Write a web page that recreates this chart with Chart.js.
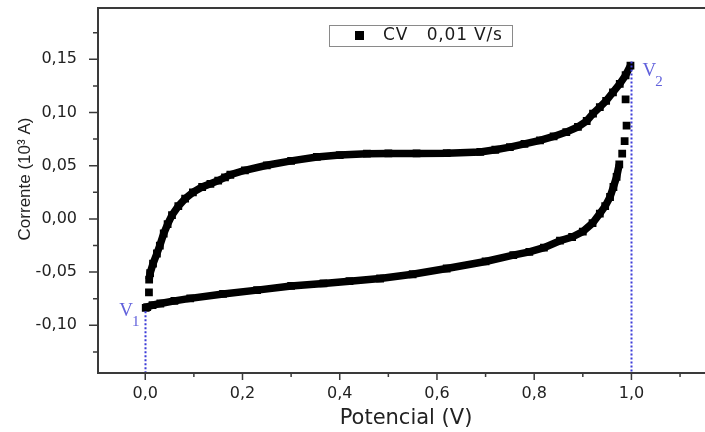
<!DOCTYPE html>
<html><head><meta charset="utf-8">
<script src="https://cdn.jsdelivr.net/npm/chart.js@4.4.1/dist/chart.umd.min.js"></script>
<style>html,body{margin:0;padding:0;background:#fff}#wrap{width:705px;height:432px;position:relative}</style>
</head><body><div id="wrap"><canvas id="c" width="705" height="432"></canvas></div>
<script>
// Forward (anodic) scan, 0 V -> 1 V
const fwdPotencial = [0.008,0.010,0.016,0.024,0.030,0.038,0.046,0.055,0.068,0.082,0.098,0.117,0.134,0.150,0.164,0.175,0.205,0.250,0.300,0.353,0.400,0.456,0.500,0.558,0.620,0.689,0.720,0.750,0.780,0.812,0.840,0.866,0.890,0.908,0.921,0.935,0.948,0.962,0.976,0.988,0.998];
const fwdCorrente  = [-0.057,-0.051,-0.042,-0.0325,-0.025,-0.0137,-0.005,0.0035,0.012,0.019,0.025,0.030,0.033,0.036,0.039,0.0415,0.0457,0.0504,0.0545,0.0582,0.0600,0.0613,0.0615,0.0615,0.0618,0.0629,0.065,0.0675,0.0705,0.0738,0.0775,0.0816,0.0865,0.092,0.099,0.105,0.111,0.119,0.127,0.135,0.144];
// Reverse (cathodic) scan, 1 V -> 0 V (continuous part)
const revPotencial = [0.975,0.9695,0.963,0.956,0.946,0.935,0.920,0.900,0.878,0.853,0.820,0.790,0.757,0.700,0.620,0.550,0.483,0.420,0.3665,0.300,0.230,0.160,0.0925,0.060,0.031,0.015,0.004,0.001];
const revCorrente  = [0.0513,0.0394,0.030,0.0206,0.012,0.005,-0.004,-0.012,-0.017,-0.0205,-0.027,-0.031,-0.034,-0.040,-0.0466,-0.052,-0.056,-0.0585,-0.0606,-0.063,-0.0669,-0.0705,-0.0747,-0.077,-0.0795,-0.081,-0.0828,-0.0835];
// Isolated points on the steep parts
const sparsePotencial = [0.988,0.990,0.986,0.981,0.0076];
const sparseCorrente  = [0.1123,0.0876,0.0732,0.0613,-0.069];
// Switching potentials V1, V2
const switchPotencial = [0.0, 1.0];
const switchCorrente  = [-0.084, 0.146];
const switchLabels = ['1','2'];
// Ticks
const xMajorTicks = [0.0,0.2,0.4,0.6,0.8,1.0];
const xMinorTicks = [0.1,0.3,0.5,0.7,0.9,1.1];
const yMajorTicks = [-0.10,-0.05,0.00,0.05,0.10,0.15];
const yMinorTicks = [-0.125,-0.075,-0.025,0.025,0.075,0.125,0.175];
const legendLabel = 'CV   0,01 V/s';
const xTitle = 'Potencial (V)';
const yTitle = 'Corrente (10\u00B3 A)';

const toPts = (xs, ys) => xs.map((x, i) => ({x, y: ys[i]}));
const AXIS = '#3a3a3a';

const framePlugin = {
  id: 'frame',
  afterDatasetsDraw(chart) {
    const {ctx, chartArea: a, scales: {x, y}} = chart;
    const W = chart.width;
    ctx.save();
    // blue dotted switching lines
    ctx.strokeStyle = '#3b3bd8';
    ctx.lineWidth = 2;
    ctx.setLineDash([2, 2]);
    switchPotencial.forEach((v, i) => {
      const px = Math.round(x.getPixelForValue(v)) + 0.5;
      const py = y.getPixelForValue(switchCorrente[i]) + (i === 0 ? 3 : -2);
      ctx.beginPath(); ctx.moveTo(px, py); ctx.lineTo(px, a.bottom); ctx.stroke();
    });
    ctx.setLineDash([]);
    // V labels
    ctx.fillStyle = '#6262dc';
    ctx.textBaseline = 'alphabetic';
    switchPotencial.forEach((v, i) => {
      const px = x.getPixelForValue(v);
      const py = y.getPixelForValue(switchCorrente[i]);
      const lx = i === 0 ? px - 26 : px + 11;
      const ly = i === 0 ? py + 8 : py + 12;
      ctx.font = '19px "Liberation Serif"';
      ctx.textAlign = 'left';
      ctx.fillText('V', lx, ly);
      const w = ctx.measureText('V').width;
      ctx.font = '15px "Liberation Serif"';
      ctx.fillText(switchLabels[i], lx + w - 1, ly + 10);
    });
    // frame
    ctx.strokeStyle = AXIS;
    ctx.lineWidth = 2;
    ctx.beginPath();
    ctx.moveTo(W, a.top); ctx.lineTo(a.left, a.top);
    ctx.lineTo(a.left, a.bottom); ctx.lineTo(W, a.bottom);
    ctx.stroke();
    // ticks
    ctx.lineWidth = 1.5;
    ctx.beginPath();
    xMajorTicks.forEach(v => { const p = x.getPixelForValue(v); ctx.moveTo(p, a.bottom); ctx.lineTo(p, a.bottom + 7); });
    xMinorTicks.forEach(v => { const p = x.getPixelForValue(v); ctx.moveTo(p, a.bottom); ctx.lineTo(p, a.bottom + 4); });
    yMajorTicks.forEach(v => { const p = y.getPixelForValue(v); ctx.moveTo(a.left, p); ctx.lineTo(a.left - 9, p); });
    yMinorTicks.forEach(v => { const p = y.getPixelForValue(v); ctx.moveTo(a.left, p); ctx.lineTo(a.left - 5, p); });
    ctx.stroke();
    // legend
    ctx.strokeStyle = '#8a8a8a';
    ctx.lineWidth = 1;
    ctx.strokeRect(329.5, 25.5, 183, 21);
    ctx.fillStyle = '#000';
    ctx.fillRect(355, 31, 9, 9);
    ctx.fillStyle = '#1a1a1a';
    ctx.font = '17px "DejaVu Sans"';
    try { ctx.letterSpacing = '0.8px'; } catch (e) {}
    ctx.textAlign = 'left';
    ctx.textBaseline = 'middle';
    ctx.fillText(legendLabel, 383, 36);
    try { ctx.letterSpacing = '0px'; } catch (e) {}
    // x title
    ctx.font = '21px "DejaVu Sans"';
    ctx.textAlign = 'center';
    ctx.textBaseline = 'middle';
    ctx.fillStyle = '#222';
    ctx.fillText(xTitle, 406, 419);
    // y title
    ctx.save();
    ctx.translate(25, 179);
    ctx.rotate(-Math.PI / 2);
    ctx.font = '17px "Liberation Sans"';
    ctx.textAlign = 'center';
    ctx.textBaseline = 'middle';
    ctx.fillStyle = '#222';
    ctx.fillText(yTitle, 0, 0);
    ctx.restore();
    ctx.restore();
  }
};

const common = {
  showLine: true, borderColor: '#000', backgroundColor: '#000', borderWidth: 7.5,
  pointStyle: 'rect', pointRadius: 5.5, pointBorderWidth: 0, pointHoverRadius: 5.5,
  tension: 0, borderJoinStyle: 'miter'
};

new Chart(document.getElementById('c'), {
  type: 'scatter',
  data: {
    datasets: [
      Object.assign({label: legendLabel, data: toPts(fwdPotencial, fwdCorrente)}, common),
      Object.assign({label: 'rev', data: toPts(revPotencial, revCorrente)}, common),
      Object.assign({}, common, {label: 'sparse', showLine: false, data: toPts(sparsePotencial, sparseCorrente)})
    ]
  },
  options: {
    responsive: false, animation: false, devicePixelRatio: 1,
    layout: {padding: {top: 8, left: 0, right: 0, bottom: 0}},
    plugins: {legend: {display: false}, tooltip: {enabled: false}},
    scales: {
      x: {
        type: 'linear', min: -0.0972, max: 1.140,
        afterBuildTicks: s => { s.ticks = xMajorTicks.map(v => ({value: v})); },
        afterFit: s => { s.height = 59; s.paddingLeft = 0; s.paddingRight = 0; },
        grid: {display: false}, border: {display: false},
        ticks: {
          autoSkip: false, maxRotation: 0, padding: 3, color: '#222',
          font: {family: 'DejaVu Sans', size: 16},
          callback: v => v.toFixed(1).replace('.', ',')
        },
        title: {display: false, text: xTitle}
      },
      y: {
        type: 'linear', min: -0.1448, max: 0.1982,
        afterBuildTicks: s => { s.ticks = yMajorTicks.map(v => ({value: v})); },
        afterFit: s => { s.width = 98; s.paddingTop = 0; s.paddingBottom = 0; },
        grid: {display: false}, border: {display: false},
        ticks: {
          autoSkip: false, padding: 13, color: '#222',
          font: {family: 'DejaVu Sans', size: 16},
          callback: v => v.toFixed(2).replace('.', ',')
        }
      }
    }
  },
  plugins: [framePlugin]
});
</script></body></html>
